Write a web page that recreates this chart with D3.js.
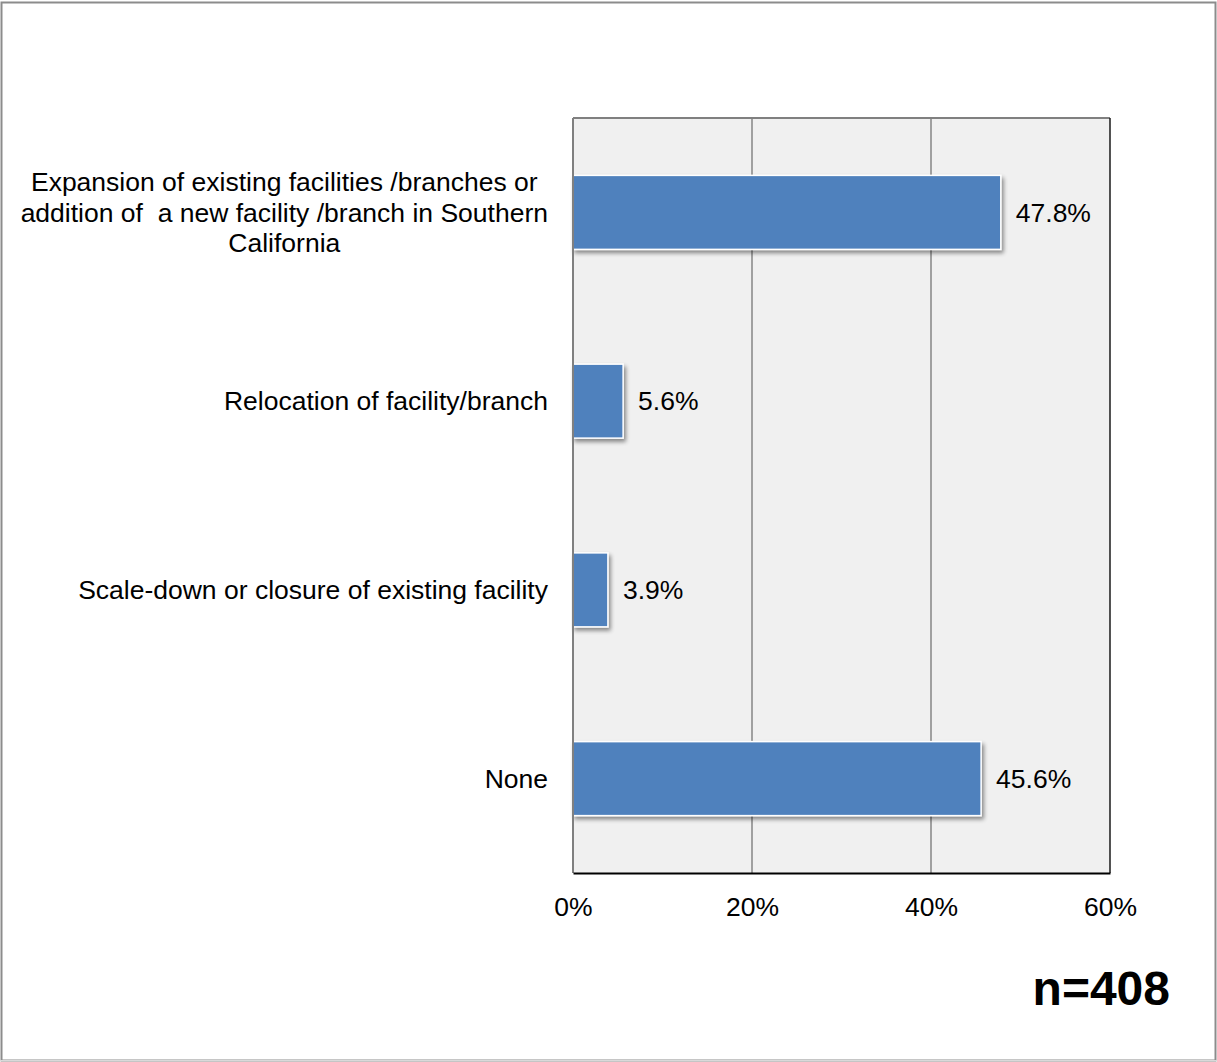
<!DOCTYPE html>
<html><head><meta charset="utf-8">
<script src="https://cdn.jsdelivr.net/npm/d3@7"></script>
<style>
html,body{margin:0;padding:0;background:#fff;}
svg{display:block;font-family:"Liberation Sans",Arial,sans-serif;}
</style></head>
<body>
<svg id="chart" width="1217" height="1062"></svg>
<script>
const categories = [
  ["Expansion of existing facilities /branches or", "addition of  a new facility /branch in Southern", "California"],
  ["Relocation of facility/branch"],
  ["Scale-down or closure of existing facility"],
  ["None"]
];
const values = [47.8, 5.6, 3.9, 45.6];
const valueLabels = ["47.8%", "5.6%", "3.9%", "45.6%"];
const tickValues = [0, 20, 40, 60];
const tickLabels = ["0%", "20%", "40%", "60%"];
const sampleNote = "n=408";

(function () {
const svg = d3.select("#chart");
const W = 1217, H = 1062;
const pL = 573, pR = 1110, pT = 118, pB = 873;
const FS = 26.5;

svg.append("rect").attr("x", 1.5).attr("y", 2.5).attr("width", W - 3).attr("height", H - 4)
  .attr("fill", "#fff").attr("stroke", "#8c8c8c").attr("stroke-width", 2);
svg.append("line").attr("x1", 0).attr("x2", W).attr("y1", H - 1.5).attr("y2", H - 1.5)
  .attr("stroke", "#d9d9d9").attr("stroke-width", 1);

const defs = svg.append("defs");
const f = defs.append("filter").attr("id", "shadow").attr("x", "-10%").attr("y", "-20%").attr("width", "130%").attr("height", "160%");
f.append("feGaussianBlur").attr("in", "SourceAlpha").attr("stdDeviation", 2).attr("result", "b");
f.append("feOffset").attr("in", "b").attr("dx", 2).attr("dy", 3).attr("result", "o");
f.append("feComponentTransfer").attr("in", "o").attr("result", "o2")
  .append("feFuncA").attr("type", "linear").attr("slope", 0.45);
const m = f.append("feMerge");
m.append("feMergeNode").attr("in", "o2");
m.append("feMergeNode").attr("in", "SourceGraphic");

const x = d3.scaleLinear().domain([0, 60]).range([pL, pR]);
const y = d3.scaleBand().domain(d3.range(categories.length)).range([pT, pB])
  .paddingInner(0.608).paddingOuter(0.304);

svg.append("rect").attr("x", pL).attr("y", pT).attr("width", pR - pL).attr("height", pB - pT)
  .attr("fill", "#f0f0f0");

svg.append("g").selectAll("line").data(tickValues.slice(1, -1)).join("line")
  .attr("x1", d => x(d)).attr("x2", d => x(d)).attr("y1", pT).attr("y2", pB)
  .attr("stroke", "#868686").attr("stroke-width", 1.5);

svg.append("line").attr("x1", pL).attr("x2", pR).attr("y1", pT).attr("y2", pT)
  .attr("stroke", "#808080").attr("stroke-width", 2);
svg.append("line").attr("x1", pR).attr("x2", pR).attr("y1", pT).attr("y2", pB)
  .attr("stroke", "#1a1a1a").attr("stroke-width", 1.5);

svg.append("g").selectAll("rect").data(values).join("rect")
  .attr("x", x(0)).attr("y", (d, i) => y(i))
  .attr("width", d => x(d) - x(0)).attr("height", y.bandwidth())
  .attr("fill", "#4f81bd").attr("stroke", "#fff").attr("stroke-width", 1.5)
  .attr("filter", "url(#shadow)");

svg.append("line").attr("x1", pL).attr("x2", pL).attr("y1", pT).attr("y2", pB)
  .attr("stroke", "#808080").attr("stroke-width", 2);

const xAxis = d3.axisBottom(x).tickValues(tickValues).tickFormat((d, i) => tickLabels[i]).tickSize(0).tickPadding(24);
const gx = svg.append("g").attr("transform", `translate(0,${pB})`).call(xAxis);
gx.select(".domain").attr("stroke", "#000").attr("stroke-width", 2);
gx.selectAll("text").attr("font-size", FS).attr("fill", "#000")
  .attr("font-family", "Liberation Sans, Arial, sans-serif");

svg.append("g").selectAll("text").data(values).join("text")
  .attr("x", d => x(d) + 15).attr("y", (d, i) => y(i) + y.bandwidth() / 2)
  .attr("dy", "0.35em").attr("font-size", FS).attr("fill", "#000")
  .text((d, i) => valueLabels[i]);

const lineH = 30.5;
const catG = svg.append("g");
categories.forEach((lines, i) => {
  const cy = y(i) + y.bandwidth() / 2;
  const n = lines.length;
  if (n === 1) {
    catG.append("text").attr("x", 548).attr("y", cy).attr("dy", "0.35em")
      .attr("text-anchor", "end").attr("font-size", FS).attr("fill", "#000")
      .style("white-space", "pre").text(lines[0]);
  } else {
    const t = catG.append("text").attr("font-size", FS).attr("fill", "#000")
      .attr("text-anchor", "middle").style("white-space", "pre");
    lines.forEach((ln, j) => {
      t.append("tspan").attr("x", 0).attr("y", cy + (j - (n - 1) / 2) * lineH).attr("dy", "0.35em").text(ln);
    });
    const w = t.node().getBBox().width;
    t.selectAll("tspan").attr("x", 548 - w / 2);
  }
});

svg.append("text").attr("x", 1170).attr("y", 1005).attr("text-anchor", "end")
  .attr("font-size", 48).attr("font-weight", "bold").attr("fill", "#000").text(sampleNote);
})();
</script>
</body></html>
